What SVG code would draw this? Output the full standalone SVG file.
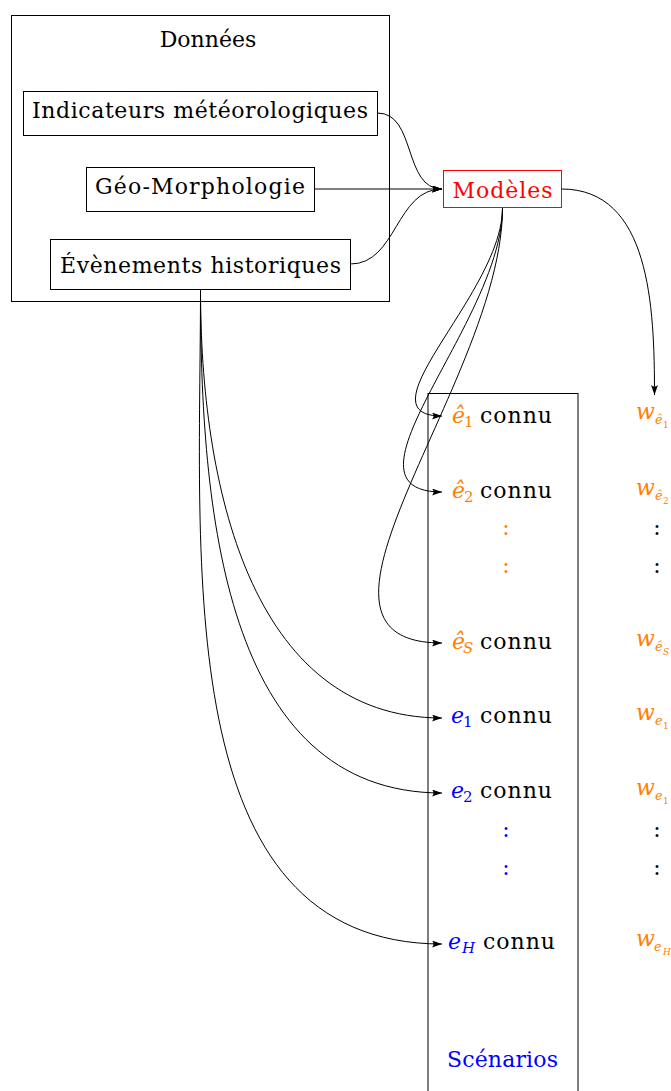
<svg xmlns="http://www.w3.org/2000/svg" width="671" height="1091" viewBox="0 0 671 1091">
<style>
text{font-family:"DejaVu Serif","Liberation Serif",serif;font-size:22px;fill:#000}
.box{fill:none;stroke:#000;stroke-width:1}
.red{fill:#f00}
.org{fill:#ff8000}
.blu{fill:#00f}
.it{font-style:italic}
.sub{font-size:15px}
.wsub{font-size:13px}
.sub2{font-size:9px}
.mid{text-anchor:middle}
.con{fill:none;stroke:#000;stroke-width:1;marker-end:url(#ah)}
</style>
<defs>
<marker id="ah" viewBox="0 0 10 7" refX="10" refY="3.5" markerWidth="10" markerHeight="7" orient="auto" markerUnits="userSpaceOnUse">
<path d="M0,0 L10,3.5 L0,7 Q3,3.5 0,0 z" fill="#000"/>
</marker>
</defs>

<g id="donnees">
<rect class="box" x="11.5" y="15.5" width="378" height="286"/>
<text x="208" y="47" class="mid">Données</text>
</g>
<g id="indicateurs">
<rect class="box" x="23.5" y="91.5" width="354" height="44"/>
<text x="200" y="118" class="mid" textLength="336">Indicateurs météorologiques</text>
</g>
<g id="geo">
<rect class="box" x="86.5" y="167.5" width="228" height="44"/>
<text x="200" y="194" class="mid" textLength="210">Géo-Morphologie</text>
</g>
<g id="evenements">
<rect class="box" x="50.5" y="239.5" width="300" height="50"/>
<text x="200.5" y="273" class="mid" textLength="281">Évènements historiques</text>
</g>
<g id="modeles">
<rect x="443.5" y="170.5" width="118" height="37" fill="none" stroke="#f00" stroke-width="1"/>
<text x="502.5" y="197.5" class="mid red" textLength="100">Modèles</text>
</g>
<g id="scenarios">
<rect class="box" x="428" y="393.5" width="150" height="720"/>
<text x="502.5" y="1067" class="mid blu" textLength="111">Scénarios</text>
</g>

<g id="row-e1hat">
<text x="452" y="423" class="it org">ê</text><text x="464" y="427" class="sub org">1</text>
<text x="480" y="423" textLength="72">connu</text>
</g>
<g id="row-e2hat">
<text x="452" y="498" class="it org">ê</text><text x="464" y="502" class="sub org">2</text>
<text x="480" y="498" textLength="72">connu</text>
</g>
<g id="dots-orange">
<text x="506" y="535" class="mid org">:</text>
<text x="506" y="573" class="mid org">:</text>
</g>
<g id="row-eShat">
<text x="452" y="649" class="it org">ê</text><text x="463" y="653" class="sub it org">S</text>
<text x="480" y="649" textLength="72">connu</text>
</g>
<g id="row-e1">
<text x="451" y="723" class="it blu">e</text><text x="463" y="727" class="sub blu">1</text>
<text x="480" y="723" textLength="72">connu</text>
</g>
<g id="row-e2">
<text x="451" y="798" class="it blu">e</text><text x="463" y="802" class="sub blu">2</text>
<text x="480" y="798" textLength="72">connu</text>
</g>
<g id="dots-blue">
<text x="506" y="837" class="mid blu">:</text>
<text x="506" y="875" class="mid blu">:</text>
</g>
<g id="row-eH">
<text x="448" y="949" class="it blu">e</text><text x="462" y="953" class="sub it blu">H</text>
<text x="483" y="949" textLength="72">connu</text>
</g>

<g id="weights">
<text x="636" y="419" class="it org">w</text><text x="655" y="424" class="wsub it org">ê</text><text x="663" y="428" class="sub2 org">1</text>
<text x="636" y="495" class="it org">w</text><text x="655" y="500" class="wsub it org">ê</text><text x="663" y="504" class="sub2 org">2</text>
<text x="657" y="535" class="mid">:</text>
<text x="657" y="573" class="mid">:</text>
<text x="636" y="646" class="it org">w</text><text x="655" y="651" class="wsub it org">ê</text><text x="663" y="655" class="sub2 it org">S</text>
<text x="636" y="720" class="it org">w</text><text x="655" y="725" class="wsub it org">e</text><text x="663" y="729" class="sub2 org">1</text>
<text x="636" y="795" class="it org">w</text><text x="655" y="800" class="wsub it org">e</text><text x="663" y="804" class="sub2 org">1</text>
<text x="657" y="837" class="mid">:</text>
<text x="657" y="875" class="mid">:</text>
<text x="636" y="946" class="it org">w</text><text x="654" y="951" class="wsub it org">e</text><text x="663" y="955" class="sub2 it org">H</text>
</g>

<g id="connectors">
<path class="con" d="M377.5,113 C416.5,113 403,189 442,189"/>
<path class="con" d="M314.5,189 L442,189"/>
<path class="con" d="M350.5,264 C396.8,264 395.7,189 442,189"/>
<path class="con" d="M561.5,189 C650,189 654.5,306 654.5,395"/>
<path class="con" d="M502.5,208 C502.5,292.8 357.2,416 442,416"/>
<path class="con" d="M502.5,208 C502.5,321.7 328.3,492 442,492"/>
<path class="con" d="M502.5,208 C502.5,379.9 270.1,643 442,643"/>
<path class="con" d="M200.5,289.5 C200.5,482.1 249.4,718 442,718"/>
<path class="con" d="M200.5,289.5 C200.5,508.1 223.4,793 442,793"/>
<path class="con" d="M200.5,289.5 C200.5,562.6 168.9,944 442,944"/>
</g>
</svg>
